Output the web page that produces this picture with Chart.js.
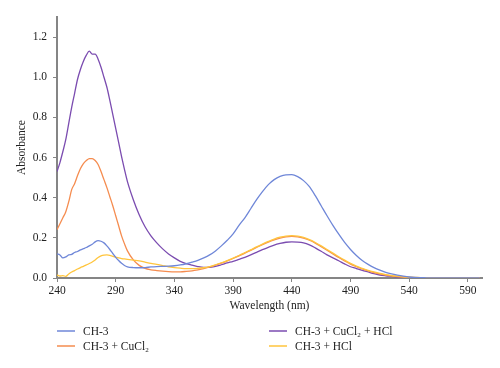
<!DOCTYPE html>
<html>
<head>
<meta charset="utf-8">
<script src="https://cdn.jsdelivr.net/npm/chart.js@4/dist/chart.umd.min.js"></script>
<style>
  html, body { margin: 0; padding: 0; background: #fff; }
  #wrap { width: 500px; height: 368px; position: relative; }
</style>
</head>
<body>
<div id="wrap"><canvas id="uvChart" width="500" height="368"></canvas></div>
<script>
// wavelength grid (nm)
var wavelengths = [
    240, 242.5, 245, 247.5, 250, 252.5, 255, 257.5, 260, 262.5, 265, 267.5, 270,
    272.5, 275, 277.5, 280, 282.5, 285, 287.5, 290, 292.5, 295, 297.5, 300,
    305, 310, 315, 320, 325, 330, 335, 340, 345, 350, 355, 360, 365, 370, 375,
    380, 385, 390, 395, 400, 405, 410, 415, 420, 425, 430, 435, 440, 445, 450,
    455, 460, 465, 470, 475, 480, 485, 490, 495, 500, 505, 510, 515, 520, 525,
    530, 535, 540, 545, 550, 555, 560, 580, 600
];

// tick labels
var xTicks = [240, 290, 340, 390, 440, 490, 540, 590];
var yTicks = [0, 0.2, 0.4, 0.6, 0.8, 1.0, 1.2];

// absorbance, CH-3
var ch3 = [
    0.12, 0.115, 0.10, 0.105, 0.115, 0.118, 0.127, 0.132, 0.14, 0.146, 0.152, 0.16, 0.168,
    0.18, 0.186, 0.183, 0.175, 0.16, 0.142, 0.122, 0.103, 0.087, 0.073, 0.062, 0.056,
    0.052, 0.051, 0.052, 0.055, 0.057, 0.058, 0.059, 0.061, 0.065, 0.071, 0.079, 0.088, 0.10, 0.115, 0.135,
    0.16, 0.188, 0.22, 0.262, 0.30, 0.345, 0.39, 0.43, 0.465, 0.49, 0.506, 0.514, 0.515, 0.505, 0.485,
    0.455, 0.41, 0.36, 0.31, 0.262, 0.218, 0.177, 0.142, 0.112, 0.087, 0.068, 0.052, 0.039, 0.028, 0.02,
    0.014, 0.009, 0.005, 0.003, 0.002, 0.001, 0, 0, 0
];

// absorbance, CH-3 + CuCl2
var ch3Cu = [
    0.24, 0.27, 0.30, 0.33, 0.38, 0.44, 0.47, 0.51, 0.545, 0.57, 0.585, 0.595, 0.595,
    0.585, 0.565, 0.53, 0.49, 0.45, 0.405, 0.36, 0.31, 0.26, 0.21, 0.17, 0.135,
    0.09, 0.063, 0.048, 0.041, 0.037, 0.034, 0.032, 0.031, 0.031, 0.033, 0.036, 0.041, 0.047, 0.055, 0.064,
    0.074, 0.085, 0.097, 0.11, 0.124, 0.138, 0.152, 0.166, 0.179, 0.19, 0.199, 0.205, 0.207, 0.205, 0.198,
    0.188, 0.174, 0.156, 0.138, 0.12, 0.102, 0.085, 0.069, 0.056, 0.045, 0.035, 0.027, 0.02, 0.014, 0.01,
    0.007, 0.004, 0.003, 0.002, 0.001, 0, 0, 0, 0
];

// absorbance, CH-3 + CuCl2 + HCl
var ch3CuHcl = [
    0.53, 0.575, 0.63, 0.69, 0.77, 0.85, 0.92, 0.99, 1.04, 1.08, 1.11, 1.13, 1.115,
    1.115, 1.09, 1.05, 1.00, 0.95, 0.885, 0.815, 0.745, 0.675, 0.605, 0.54, 0.48,
    0.39, 0.315, 0.255, 0.21, 0.175, 0.145, 0.12, 0.10, 0.083, 0.072, 0.064, 0.057, 0.053, 0.053, 0.058,
    0.066, 0.075, 0.083, 0.093, 0.103, 0.115, 0.128, 0.141, 0.153, 0.164, 0.172, 0.178, 0.18, 0.179, 0.175,
    0.165, 0.15, 0.133, 0.115, 0.10, 0.086, 0.07, 0.056, 0.047, 0.038, 0.03, 0.022, 0.015, 0.011, 0.008,
    0.005, 0.003, 0.002, 0.001, 0, 0, 0, 0, 0
];

// absorbance, CH-3 + HCl
var ch3Hcl = [
    0.015, 0.01, 0.012, 0.008, 0.02, 0.03, 0.037, 0.045, 0.052, 0.058, 0.065, 0.072, 0.08,
    0.09, 0.102, 0.11, 0.114, 0.115, 0.113, 0.108, 0.104, 0.10, 0.097, 0.095, 0.093,
    0.089, 0.085, 0.079, 0.073, 0.068, 0.062, 0.056, 0.052, 0.049, 0.047, 0.047, 0.048, 0.051, 0.057, 0.066,
    0.076, 0.087, 0.099, 0.112, 0.126, 0.14, 0.155, 0.169, 0.182, 0.194, 0.203, 0.209, 0.211, 0.209, 0.202,
    0.191, 0.177, 0.16, 0.142, 0.124, 0.106, 0.089, 0.073, 0.059, 0.048, 0.038, 0.03, 0.023, 0.017, 0.012,
    0.009, 0.006, 0.004, 0.003, 0.002, 0.001, 0.001, 0.001, 0.001
];

var seriesNames = ["CH-3", "CH-3 + CuCl\u2082", "CH-3 + CuCl\u2082 + HCl", "CH-3 + HCl"];
var seriesColors = ["#6f87d8", "#f58c4f", "#7b4cb0", "#ffc53d"];
var seriesValues = [ch3, ch3Cu, ch3CuHcl, ch3Hcl];

var fontFamily = "'Liberation Serif', 'Times New Roman', serif";
var axisGrey = "#858585";
var textColor = "#222222";

function toPoints(values) {
    return wavelengths.map(function(w, i) { return { x: w, y: values[i] }; });
}

var datasets = seriesNames.map(function(name, i) {
    return {
        label: name,
        data: toPoints(seriesValues[i]),
        borderColor: seriesColors[i],
        backgroundColor: seriesColors[i],
        borderWidth: 1.3,
        pointRadius: 0,
        fill: false,
        cubicInterpolationMode: "monotone"
    };
});
// draw the yellow one above the orange one where they overlap
datasets[0].order = 1;
datasets[1].order = 3;
datasets[2].order = 4;
datasets[3].order = 2;

// two-column legend below the x axis title
var legendPlugin = {
    id: "twoColLegend",
    afterDraw: function(chart) {
        var ctx = chart.ctx;
        var area = chart.chartArea;
        var cols = [area.left, area.left + 212];
        var rows = [331, 346];
        var slots = [[0, 0], [0, 1], [1, 0], [1, 1]];
        ctx.save();
        ctx.font = "11.5px " + fontFamily;
        ctx.textBaseline = "middle";
        ctx.fillStyle = textColor;
        slots.forEach(function(s, i) {
            var x = cols[s[0]];
            var y = rows[s[1]];
            ctx.strokeStyle = seriesColors[i];
            ctx.lineWidth = 1.5;
            ctx.beginPath();
            ctx.moveTo(x, y);
            ctx.lineTo(x + 18, y);
            ctx.stroke();
            ctx.fillText(seriesNames[i], x + 26, y + 0.5);
        });
        ctx.restore();
    }
};

var chart = new Chart(document.getElementById("uvChart").getContext("2d"), {
    type: "line",
    data: { datasets: datasets },
    options: {
        responsive: false,
        animation: false,
        layout: { padding: { top: 17, right: 18, bottom: 54, left: 0 } },
        plugins: {
            legend: { display: false },
            tooltip: { enabled: false }
        },
        scales: {
            x: {
                type: "linear",
                min: 240,
                max: 602,
                afterBuildTicks: function(scale) {
                    scale.ticks = xTicks.map(function(v) { return { value: v }; });
                },
                afterFit: function(scale) { scale.height = 36; },
                border: { display: true, color: axisGrey, width: 2 },
                grid: { drawOnChartArea: false, drawTicks: true, tickLength: 4, color: axisGrey, lineWidth: 1 },
                ticks: {
                    padding: 2,
                    maxRotation: 0,
                    autoSkip: false,
                    color: textColor,
                    font: { family: fontFamily, size: 11.5 }
                },
                title: {
                    display: true,
                    text: "Wavelength (nm)",
                    color: textColor,
                    font: { family: fontFamily, size: 11.5 },
                    padding: { top: 0, bottom: 1 }
                }
            },
            y: {
                min: 0,
                max: 1.3,
                afterBuildTicks: function(scale) {
                    scale.ticks = yTicks.map(function(v) { return { value: v }; });
                },
                afterFit: function(scale) { scale.width = 57; },
                border: { display: true, color: axisGrey, width: 2 },
                grid: { drawOnChartArea: false, drawTicks: true, tickLength: 4, color: axisGrey, lineWidth: 1 },
                ticks: {
                    padding: 6,
                    autoSkip: false,
                    color: textColor,
                    font: { family: fontFamily, size: 11.5 },
                    callback: function(v) { return v.toFixed(1); }
                },
                title: {
                    display: true,
                    text: "Absorbance",
                    color: textColor,
                    font: { family: fontFamily, size: 11.5 },
                    padding: { top: 15, bottom: 0 }
                }
            }
        }
    },
    plugins: [legendPlugin]
});
</script>
</body>
</html>
